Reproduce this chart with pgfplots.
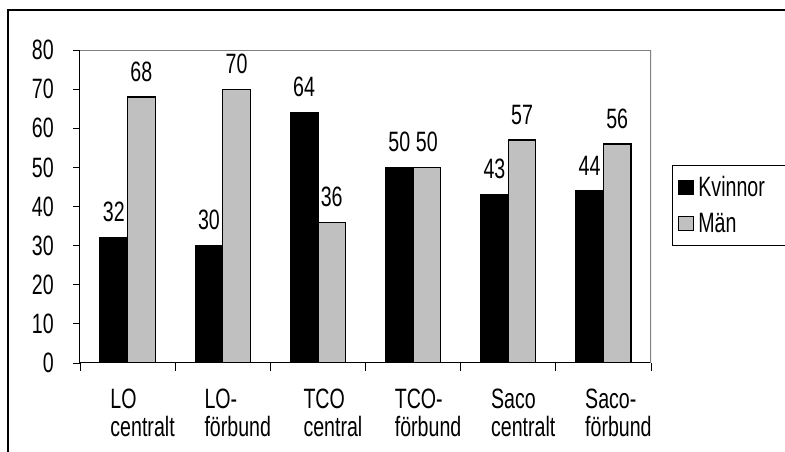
\documentclass[border=0pt]{standalone}
\usepackage{pgfplots}
\pgfplotsset{compat=1.18}
\usepackage{fontspec}
\setmainfont{Liberation Sans}[FakeStretch=0.7]

\definecolor{barGray}{RGB}{192,192,192}
\definecolor{frameGray}{RGB}{128,128,128}

\begin{document}
\begin{tikzpicture}[font=\fontsize{28}{28}\selectfont]
\path[use as bounding box] (0,0) rectangle (785pt,452pt);
% outer chart frame (right and bottom edges fall outside the page)
\draw[line width=2pt] (8pt,-20pt) -- (8pt,442pt) -- (820pt,442pt);
\begin{axis}[
    at={(80pt,89pt)}, anchor=south west,
    scale only axis, width=571pt, height=313pt,
    ymin=0, ymax=80, xmin=-0.5, xmax=5.5,
    axis x line*=bottom, axis y line*=left,
    axis line style={black, line width=1pt},
    ybar, bar width=0.29,
    ytick={0,10,...,80},
    xtick={0,...,5},
    xticklabels={{LO\\centralt},{LO-\\förbund},{TCO\\central},{TCO-\\förbund},{Saco\\centralt},{Saco-\\förbund}},
    minor xtick={-0.5,0.5,...,5.5},
    major x tick style={draw=none},
    tick align=outside,
    major tick length=7pt, minor tick length=8pt,
    tick style={black, line width=0.8pt},
    /pgf/number format/assume math mode=true,
    xticklabel style={align=left, anchor=north, inner sep=0pt, yshift=-19pt, xshift=15pt},
    yticklabel style={anchor=east, inner sep=0pt, xshift=-19pt},
    nodes near coords,
    every node near coord/.append style={anchor=south, inner sep=0pt, yshift=15pt, black},
    legend style={at={(1.0368,0.6326)}, anchor=north west, draw=black, line width=0.8pt,
        inner xsep=6pt, inner ysep=9pt, row sep=11pt,
        font=\fontsize{28}{28}\selectfont},
    legend cell align=left,
    legend image code/.code={\draw[#1, line width=1pt] (0pt,-7pt) rectangle (15pt,7pt);},
]
\addplot[fill=black, draw=black, line width=1.2pt, bar shift=-0.145]
    coordinates {(0,32) (1,30) (2,64) (3,50) (4,43) (5,44)};
\addplot[fill=barGray, draw=black, line width=1.2pt, bar shift=0.145]
    coordinates {(0,68) (1,70) (2,36) (3,50) (4,57) (5,56)};
\legend{\makebox[85pt][l]{\hspace{2pt}Kvinnor}, \hspace{2pt}Män}
\draw[frameGray, line width=1.5pt] (rel axis cs:0,1) -- (rel axis cs:1,1) -- (rel axis cs:1,0);
\end{axis}
\end{tikzpicture}
\end{document}
